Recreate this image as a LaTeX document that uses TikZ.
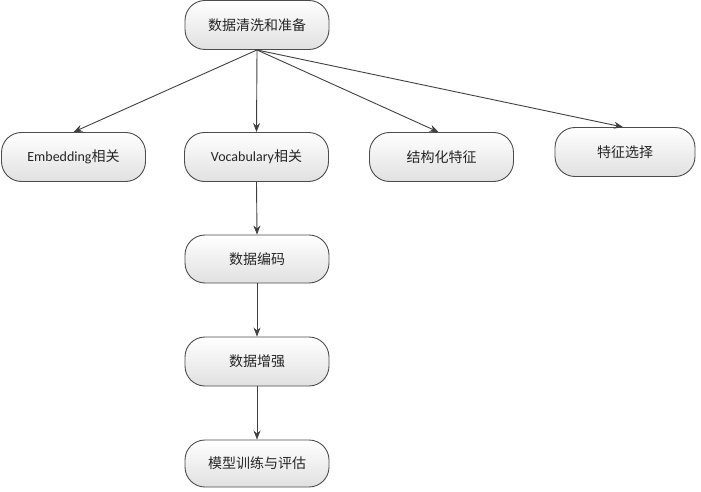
\documentclass[tikz,border=0pt]{standalone}
\usepackage{fontspec}
\setmainfont{Carlito}
\newfontfamily\cjk{Noto Sans CJK SC}
\usetikzlibrary{arrows.meta}
\tikzset{
  box/.style={draw=black!70, line width=0.9pt, rounded corners=20pt,
    top color=white, bottom color=black!12,
    minimum width=144pt, minimum height=49pt, inner sep=0pt,
    font=\fontsize{14}{16}\selectfont, text=black!85},
  arr/.style={draw=black!75, line width=0.9pt, -{Stealth[length=9pt,width=7pt]}}
}
\begin{document}
\begin{tikzpicture}[x=1pt,y=1pt]
\useasboundingbox (0,0) rectangle (701,-492);
\node[box] (top) at (257,-25) {\cjk 数据清洗和准备};
\node[box] (emb) at (73.5,-157) {Embedding{\cjk 相关}};
\node[box] (voc) at (256.5,-157) {Vocabulary{\cjk 相关}};
\node[box] (str) at (441.5,-157) {\cjk 结构化特征};
\node[box, minimum width=140pt] (sel) at (625,-152) {\cjk 特征选择};
\node[box, minimum height=48pt] (enc) at (257,-259) {\cjk 数据编码};
\node[box] (aug) at (257,-361.5) {\cjk 数据增强};
\node[box, minimum height=47pt] (mod) at (257,-463.5) {\cjk 模型训练与评估};
\draw[arr] (top.south) -- (emb.north);
\draw[arr] (top.south) -- (voc.north);
\draw[arr] (top.south) -- ([xshift=-3pt]str.north);
\draw[arr] (top.south) -- ([xshift=-2pt]sel.north);
\draw[arr] (voc.south) -- (enc.north);
\draw[arr] (enc.south) -- (aug.north);
\draw[arr] (aug.south) -- (mod.north);
\end{tikzpicture}
\end{document}
